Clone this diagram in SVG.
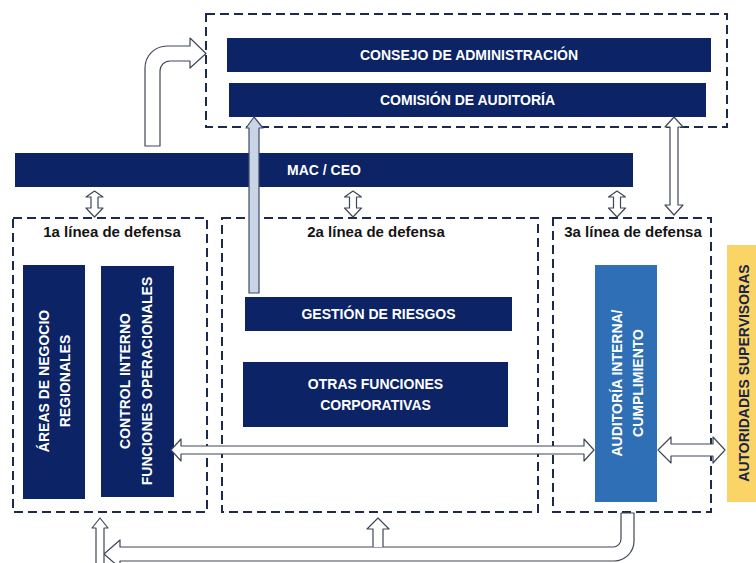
<svg xmlns="http://www.w3.org/2000/svg" width="756" height="563" viewBox="0 0 756 563">
<style>
.bar{fill:#0c2366}
.wt{fill:#ffffff;font-family:"Liberation Sans",Arial,sans-serif;font-weight:bold;font-size:14px;text-anchor:middle}
.ttl{fill:#141414;font-family:"Liberation Sans",Arial,sans-serif;font-weight:bold;font-size:15px;text-anchor:middle}
.dash{fill:none;stroke:#1c2a4d;stroke-width:2;stroke-dasharray:9 5}
.arr{fill:#ffffff;stroke:#3f4756;stroke-width:1.2;stroke-linejoin:round}
.arrb{fill:#c9d4e4;stroke:#3a4b6a;stroke-width:1.2;stroke-linejoin:round}
</style>
<rect width="756" height="563" fill="#ffffff"/>

<g id="top-box">
  <rect class="dash" x="206" y="14" width="521" height="113"/>
</g>
<g id="consejo">
  <rect class="bar" x="227" y="38" width="484" height="34"/>
  <text class="wt" x="469" y="60">CONSEJO DE ADMINISTRACIÓN</text>
</g>
<g id="comision">
  <rect class="bar" x="229" y="83" width="477" height="34"/>
  <text class="wt" x="467.5" y="105">COMISIÓN DE AUDITORÍA</text>
</g>
<g id="mac-ceo">
  <rect class="bar" x="15" y="153" width="618" height="34"/>
  <text class="wt" x="324" y="175">MAC / CEO</text>
</g>

<g id="linea1">
  <rect class="dash" x="13" y="218" width="194" height="294"/>
  <text class="ttl" x="112" y="237">1a línea de defensa</text>
</g>
<g id="linea2">
  <rect class="dash" x="222" y="218" width="316" height="294"/>
  <text class="ttl" x="376" y="237">2a línea de defensa</text>
</g>
<g id="linea3">
  <rect class="dash" x="553" y="218" width="158" height="294"/>
  <text class="ttl" x="633" y="237">3a línea de defensa</text>
</g>

<g id="areas-negocio">
  <rect class="bar" x="23" y="265" width="62" height="234"/>
  <text class="wt" transform="translate(49,381) rotate(-90)">ÁREAS DE NEGOCIO</text>
  <text class="wt" transform="translate(70,381) rotate(-90)">REGIONALES</text>
</g>
<g id="control-interno">
  <rect class="bar" x="101" y="266" width="73" height="231"/>
  <text class="wt" transform="translate(130,381) rotate(-90)">CONTROL INTERNO</text>
  <text class="wt" transform="translate(152,381) rotate(-90)">FUNCIONES OPERACIONALES</text>
</g>
<g id="gestion-riesgos">
  <rect class="bar" x="245" y="297" width="267" height="34"/>
  <text class="wt" x="378.5" y="319">GESTIÓN DE RIESGOS</text>
</g>
<g id="otras-funciones">
  <rect class="bar" x="243" y="362" width="265" height="65"/>
  <text class="wt" x="375.5" y="389">OTRAS FUNCIONES</text>
  <text class="wt" x="375.5" y="410">CORPORATIVAS</text>
</g>
<g id="auditoria-interna">
  <rect x="595" y="265" width="62" height="237" fill="#2f6fb6"/>
  <text class="wt" transform="translate(622,383) rotate(-90)">AUDITORÍA INTERNA/</text>
  <text class="wt" transform="translate(643,383) rotate(-90)">CUMPLIMIENTO</text>
</g>
<g id="autoridades">
  <rect x="727" y="245" width="29" height="257" fill="#fad466"/>
  <text class="wt" style="fill:#1a2448" transform="translate(749,373) rotate(-90)">AUTORIDADES SUPERVISORAS</text>
</g>

<g id="connectors">
  <!-- bent arrow MAC/CEO to top box -->
  <path class="arr" d="M145 146 L145 68 A22 22 0 0 1 167 46 L190 46 L190 38 L206 53.5 L190 68 L190 61 L170 61 A10 10 0 0 0 160 71 L160 146 Z"/>
  <!-- Gestion de riesgos to Comision -->
  <path class="arrb" d="M249 293 L249 128 L246 128 L254 117 L263 128 L259 128 L259 293 Z"/>
  <!-- double arrow comision - 3a linea -->
  <path class="arr" d="M674 117 L683 127 L678 127 L678 205 L683 205 L674 215 L665 205 L670 205 L670 127 L665 127 Z"/>
  <!-- small double arrows MAC/CEO to lines -->
  <path class="arr" d="M94.5 191 L103 197 L98 197 L98 208 L103 208 L94.5 217 L86 208 L91 208 L91 197 L86 197 Z"/>
  <path class="arr" d="M353 191 L361.5 197 L356.5 197 L356.5 208 L361.5 208 L353 217 L344.5 208 L349.5 208 L349.5 197 L344.5 197 Z"/>
  <path class="arr" d="M617 191 L625.5 197 L620.5 197 L620.5 208 L625.5 208 L617 217 L608.5 208 L613.5 208 L613.5 197 L608.5 197 Z"/>
  <!-- horizontal double arrow control interno - auditoria -->
  <path class="arr" d="M171 450 L181 439 L181 446 L584 446 L584 439 L594 450 L584 461 L584 454 L181 454 L181 461 Z"/>
  <!-- double arrow auditoria - autoridades -->
  <path class="arr" d="M658 450 L671 437 L671 444 L713 444 L713 437 L725 450 L713 463 L713 456 L671 456 L671 463 Z"/>
  <!-- bottom bent arrow -->
  <path class="arr" d="M621 513 L634 513 L634 541 A20 20 0 0 1 614 561 L120 561 L120 568 L104 554 L120 540 L120 547 L613 547 A8 8 0 0 0 621 539 Z"/>
  <!-- middle up arrow -->
  <path class="arr" d="M373 547 L373 529 L367 529 L378 518 L389 529 L383 529 L383 547"/>
  <!-- left up arrow -->
  <path class="arr" d="M96 566 L96 528 L92 528 L100 518 L108 528 L104 528 L104 566 Z"/>
</g>
</svg>
